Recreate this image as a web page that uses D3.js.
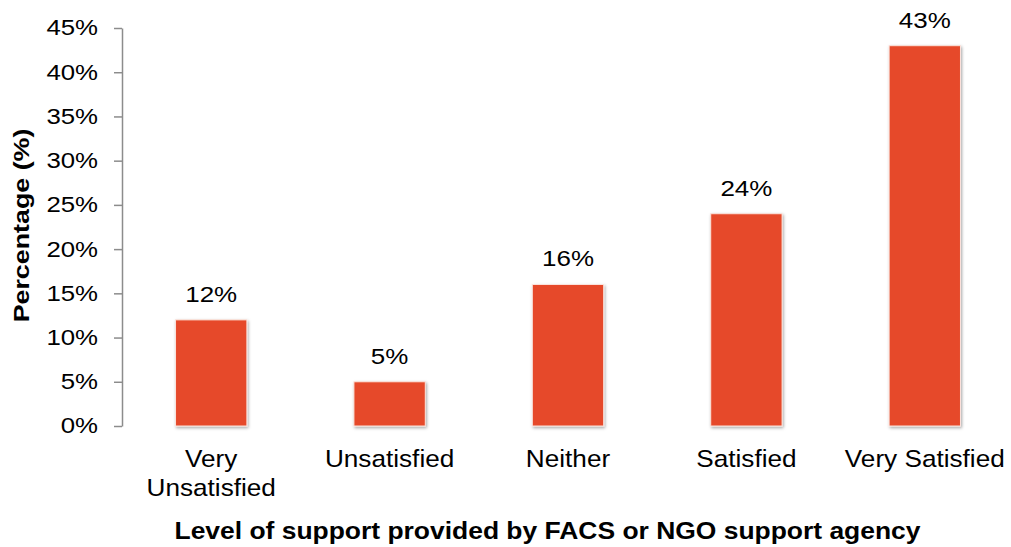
<!DOCTYPE html>
<html>
<head>
<meta charset="utf-8">
<script src="https://cdn.jsdelivr.net/npm/d3@7"></script>
<style>
  html, body { margin: 0; padding: 0; background: #ffffff; }
  svg { display: block; }
  text { font-family: "Liberation Sans", Arial, sans-serif; fill: #000; }
</style>
</head>
<body>
<div id="chart"></div>
<script>
// Satisfaction with support, share of respondents per level
const categories = ["Very Unsatisfied", "Unsatisfied", "Neither", "Satisfied", "Very Satisfied"];
const categoryLines = [["Very", "Unsatisfied"], ["Unsatisfied"], ["Neither"], ["Satisfied"], ["Very Satisfied"]];
const percentages = [12, 5, 16, 24, 43];
const yTicks = [0, 5, 10, 15, 20, 25, 30, 35, 40, 45];
const yTitle = "Percentage (%)";
const xTitle = "Level of support provided by FACS or NGO support agency";

const width = 1011, height = 547;
const margin = { top: 28, right: -3, bottom: 121, left: 122 };

const svg = d3.select("#chart").append("svg")
  .attr("width", width)
  .attr("height", height);

// soft shadow around each bar
const defs = svg.append("defs");
const shadow = defs.append("filter").attr("id", "barShadow")
  .attr("x", "-10%").attr("y", "-10%").attr("width", "125%").attr("height", "125%");
shadow.append("feDropShadow")
  .attr("dx", 1).attr("dy", 1.5).attr("stdDeviation", 1.6)
  .attr("flood-color", "#000").attr("flood-opacity", 0.35);

const x = d3.scaleBand()
  .domain(categories)
  .range([margin.left, width - margin.right])
  .paddingInner(0.6)
  .paddingOuter(0.3);

const y = d3.scaleLinear()
  .domain([0, 45])
  .range([height - margin.bottom, margin.top]);

// text in this chart is set slightly wide; stretch along the baseline
const tickStretch = 1.2;
const valueStretch = 1.18;
const catStretch = 1.09;

// y axis
const labelGap = 24;
const yAxis = svg.append("g")
  .attr("transform", `translate(${margin.left},0)`)
  .call(d3.axisLeft(y).tickValues(yTicks).tickFormat(d => d + "%").tickSize(8).tickSizeOuter(0));
yAxis.select(".domain").attr("stroke", "#8c8c8c").attr("stroke-width", 1.5);
yAxis.selectAll(".tick line").attr("stroke", "#8c8c8c").attr("stroke-width", 1.5);
yAxis.selectAll(".tick text")
  .style("font-family", '"Liberation Sans", Arial, sans-serif')
  .style("font-size", "21.5px")
  .attr("fill", "#000")
  .attr("x", -labelGap / tickStretch)
  .attr("transform", `scale(${tickStretch},1)`);

// bars
svg.append("g").selectAll("rect")
  .data(percentages)
  .join("rect")
  .attr("x", (d, i) => x(categories[i]))
  .attr("y", d => y(d))
  .attr("width", x.bandwidth())
  .attr("height", d => y(0) - y(d))
  .attr("fill", "#e64a29")
  .attr("stroke", "#fbe3dc")
  .attr("stroke-width", 1)
  .attr("filter", "url(#barShadow)");

// value labels
svg.append("g").selectAll("text")
  .data(percentages)
  .join("text")
  .attr("transform", (d, i) =>
    `translate(${x(categories[i]) + x.bandwidth() / 2},${y(d) - 18}) scale(${valueStretch},1)`)
  .attr("text-anchor", "middle")
  .style("font-size", "22px")
  .text(d => d + "%");

// category labels
const catG = svg.append("g");
categoryLines.forEach((lines, i) => {
  const cx = x(categories[i]) + x.bandwidth() / 2;
  lines.forEach((line, j) => {
    catG.append("text")
      .attr("transform", `translate(${cx},${467 + j * 29}) scale(${catStretch},1)`)
      .attr("text-anchor", "middle")
      .style("font-size", "24px")
      .text(line);
  });
});

// axis titles
svg.append("text")
  .attr("transform", `translate(28.5,225.5) rotate(-90) scale(1.22,1)`)
  .attr("text-anchor", "middle")
  .style("font-size", "22px")
  .style("font-weight", "bold")
  .text(yTitle);

svg.append("text")
  .attr("transform", `translate(547.5,539) scale(1.15,1)`)
  .attr("text-anchor", "middle")
  .style("font-size", "23px")
  .style("font-weight", "bold")
  .text(xTitle);
</script>
</body>
</html>
